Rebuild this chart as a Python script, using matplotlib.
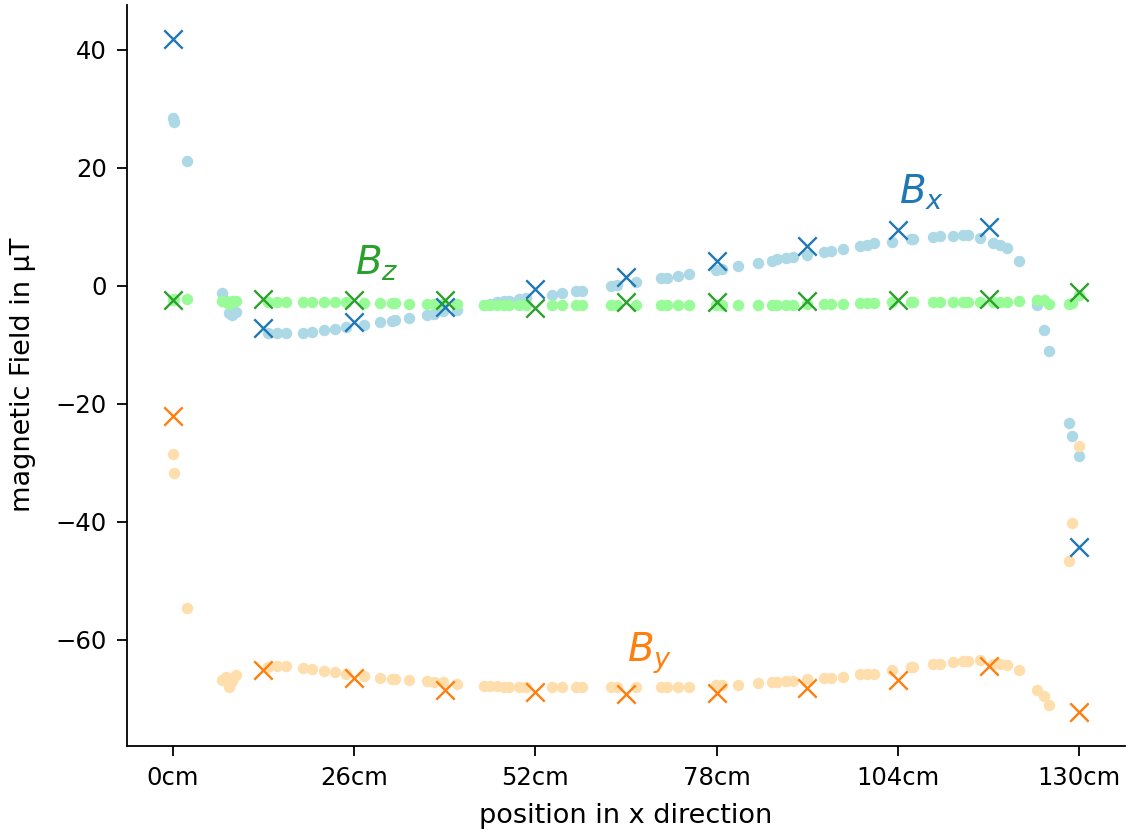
"""Plot magnetic field components along the x direction.

Light dots are the individual readings, crosses are the 13 cm grid measurements.
"""

import matplotlib

matplotlib.use("Agg")
import matplotlib.pyplot as plt
import numpy as np

# individual readings (position in cm, field in uT)
pos_cm = [
    0.0, 0.2, 2.0, 7.0, 7.6, 8.0, 8.5, 9.1, 13.6, 14.9, 16.2, 18.7, 20.0, 21.7, 23.3, 24.9,
    27.4, 29.7, 31.4, 31.9, 33.9, 36.4, 37.4, 38.8, 40.8, 44.6, 45.5, 46.5, 47.5, 48.2, 49.7,
    50.7, 54.4, 55.8, 57.8, 58.7, 62.8, 63.7, 66.4, 70.0, 70.9, 72.4, 74.0, 77.9, 78.8, 81.0,
    83.9, 86.0, 86.7, 87.9, 88.9, 91.0, 93.4, 94.4, 96.1, 98.5, 99.6, 100.6, 103.2, 105.9,
    106.1, 109.0, 110.0, 111.9, 113.3, 114.0, 115.8, 117.6, 118.6, 119.6, 121.4, 123.9, 125.0,
    125.6, 128.5, 129.0, 130.0,
]
bx = [
    28.5, 27.7, 21.1, -1.2, -2.5, -4.6, -5.0, -4.4, -7.9, -8.0, -8.0, -7.9, -7.8, -7.5, -7.3, -6.9,
    -6.7, -6.2, -5.9, -5.8, -5.5, -5.0, -4.7, -4.3, -4.0, -3.2, -3.1, -2.8, -2.6, -2.5, -2.2,
    -2.1, -1.5, -1.2, -0.9, -0.8, 0.0, 0.1, 0.7, 1.3, 1.4, 1.7, 2.1, 2.7, 2.8, 3.4,
    3.8, 4.3, 4.5, 4.7, 4.95, 5.3, 5.8, 6.0, 6.2, 6.75, 7.0, 7.2, 7.5, 7.9,
    8.0, 8.3, 8.5, 8.5, 8.6, 8.7, 8.05, 7.2, 6.9, 6.5, 4.2, -3.2, -7.5,
    -11.0, -23.3, -25.4, -28.9,
]
by = [
    -28.5, -31.7, -54.6, -66.8, -66.3, -67.9, -67.0, -66.0, -64.6, -64.5, -64.5, -64.8, -65.0,
    -65.2, -65.5, -65.7, -66.1, -66.4, -66.6, -66.6, -66.8, -67.0, -67.1, -67.2, -67.4, -67.8,
    -67.8, -67.8, -67.9, -67.9, -67.9, -67.9, -67.9, -67.9, -68.0, -68.0, -68.0, -68.0, -68.0,
    -68.0, -68.0, -68.0, -68.0, -67.6, -67.6, -67.6, -67.3, -67.1, -67.1, -66.9, -66.9, -66.7,
    -66.5, -66.5, -66.2, -65.7, -65.7, -65.7, -65.1, -64.6, -64.6, -64.0, -64.0, -63.7, -63.5,
    -63.5, -63.4, -64.0, -64.0, -64.2, -65.1, -68.4, -69.5, -71.0, -46.6, -40.2, -27.1,
]
bz = [
    -2.4, -2.3, -2.2, -2.5, -2.8, -3.0, -2.6, -2.6, -2.75, -2.75, -2.75, -2.8, -2.8, -2.8, -2.8,
    -2.8, -2.9, -2.9, -2.9, -2.9, -3.0, -3.0, -3.0, -3.0, -3.1, -3.2, -3.2, -3.2, -3.2, -3.2,
    -3.2, -3.2, -3.3, -3.3, -3.3, -3.3, -3.3, -3.3, -3.2, -3.3, -3.3, -3.3, -3.3, -3.2, -3.2,
    -3.2, -3.2, -3.3, -3.3, -3.3, -3.3, -3.1, -3.0, -3.0, -3.0, -2.9, -2.9, -2.9, -2.75, -2.75,
    -2.75, -2.75, -2.75, -2.65, -2.65, -2.65, -2.65, -2.75, -2.75, -2.7, -2.6, -2.4, -2.4,
    -3.0, -3.0, -2.9, -1.5,
]

# grid measurements every 13 cm
grid_cm = [0, 13, 26, 39, 52, 65, 78, 91, 104, 117, 130]
grid_bx = [41.9, -7.1, -6.1, -3.5, -0.6, 1.5, 4.2, 6.8, 9.5, 10.0, -44.2]
grid_by = [-22.1, -65.1, -66.5, -68.4, -68.9, -69.2, -69.0, -68.2, -66.8, -64.5, -72.2]
grid_bz = [-2.4, -2.2, -2.4, -2.4, -3.7, -2.7, -2.7, -2.5, -2.4, -2.2, -1.0]

tick_cm = [0, 26, 52, 78, 104, 130]


def main() -> None:
    """Render the field components and save out.png."""

    fig, ax = plt.subplots(figsize=(11.28, 8.34), dpi=100)
    fig.subplots_adjust(left=0.113, right=0.997, bottom=0.106, top=0.994)

    ax.scatter(pos_cm, bx, s=68, color="lightblue", linewidths=0)
    ax.scatter(pos_cm, by, s=68, color="navajowhite", linewidths=0)
    ax.scatter(pos_cm, bz, s=68, color="palegreen", linewidths=0)

    ax.scatter(grid_cm, grid_bx, s=175, marker="x", color="tab:blue", linewidths=1.7)
    ax.scatter(grid_cm, grid_by, s=175, marker="x", color="tab:orange", linewidths=1.7)
    ax.scatter(grid_cm, grid_bz, s=175, marker="x", color="tab:green", linewidths=1.7)

    ax.text(104.2, 14.0, "$B_x$", color="tab:blue", fontsize=28, va="baseline")
    ax.text(26.1, 1.9, "$B_z$", color="tab:green", fontsize=28, va="baseline")
    ax.text(65.2, -63.7, "$B_y$", color="tab:orange", fontsize=28, va="baseline")

    ax.set_xticks(tick_cm)
    ax.set_xticklabels([f"{t}cm" for t in tick_cm])
    ax.set_yticks(np.arange(-60, 41, 20))
    ax.tick_params(labelsize=17.5, length=7, width=1.3, pad=8)
    ax.set_xlabel("position in x direction", fontsize=19.5, labelpad=9)
    ax.set_ylabel("magnetic Field in µT", fontsize=19.5, labelpad=14)
    ax.spines["top"].set_visible(False)
    ax.spines["right"].set_visible(False)
    ax.spines["left"].set_linewidth(1.3)
    ax.spines["bottom"].set_linewidth(1.3)

    fig.savefig("out.png", dpi=100)
    plt.close(fig)


if __name__ == "__main__":
    main()
